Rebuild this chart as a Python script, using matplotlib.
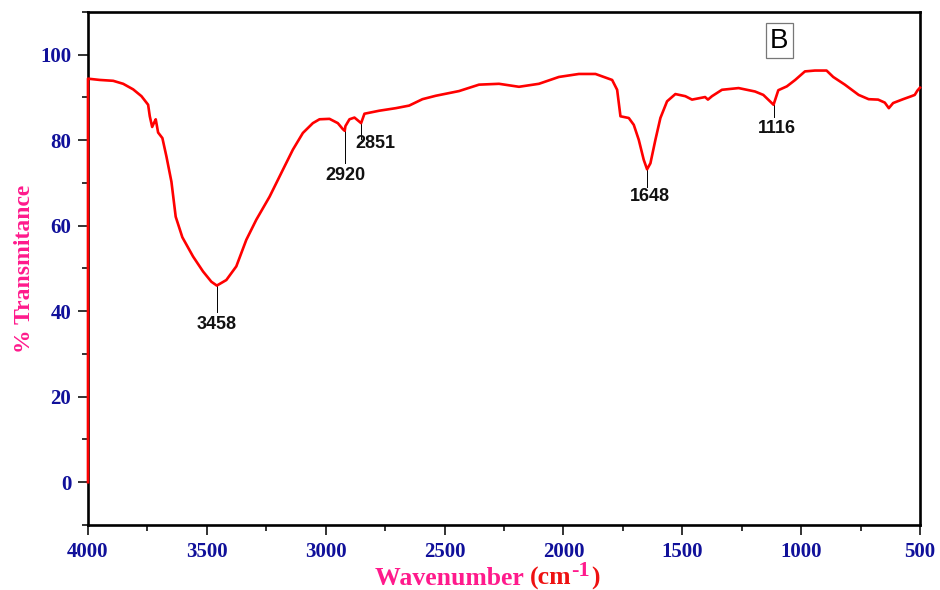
import numpy as np
import matplotlib
matplotlib.use('Agg')
import matplotlib.pyplot as plt
from matplotlib.ticker import MultipleLocator

# FTIR spectrum, wavenumber (cm-1) vs % transmittance
wavenumber = [4000, 4000, 3950, 3894, 3852, 3810, 3775, 3747, 3740, 3730, 3722, 3715,
              3705, 3687, 3670, 3649, 3631, 3603, 3558, 3516, 3481, 3458, 3418,
              3376, 3334, 3292, 3236, 3180, 3138, 3096, 3054, 3026, 2984, 2949,
              2928, 2920, 2917, 2900, 2879, 2851, 2837, 2775, 2705, 2649, 2593,
              2537, 2439, 2355, 2271, 2187, 2103, 2019, 1935, 1865, 1795, 1774,
              1760, 1725, 1704, 1683, 1662, 1648, 1634, 1613, 1592, 1564, 1529,
              1487, 1459, 1404, 1392, 1375, 1333, 1263, 1194, 1159, 1116, 1096,
              1060, 1025, 984, 942, 893, 865, 816, 758, 716, 676, 648, 631,
              613, 571, 536, 522, 511, 500]
transmittance = [0.0, 94.4, 94.1, 93.9, 93.2, 91.9, 90.3, 88.3, 85.6, 83.1, 84.1, 84.9,
                 81.8, 80.5, 76.2, 70.3, 62.1, 57.3, 52.8, 49.3, 46.9, 46.0, 47.3,
                 50.5, 56.7, 61.4, 66.8, 73.1, 77.8, 81.7, 84.0, 84.9, 85.0, 84.0,
                 82.6, 82.2, 83.3, 84.9, 85.3, 84.0, 86.2, 86.9, 87.5, 88.1, 89.6,
                 90.4, 91.5, 93.0, 93.2, 92.5, 93.2, 94.8, 95.5, 95.5, 94.1, 91.8,
                 85.6, 85.2, 83.6, 80.1, 75.4, 73.2, 74.6, 80.1, 85.2, 89.1, 90.8,
                 90.3, 89.5, 90.1, 89.5, 90.3, 91.8, 92.2, 91.4, 90.6, 88.3, 91.7,
                 92.6, 94.1, 96.1, 96.3, 96.3, 94.8, 93.0, 90.6, 89.6, 89.5, 88.8, 87.5,
                 88.7, 89.6, 90.3, 90.6, 91.6, 92.3]

# peak labels: wavenumber, transmittance at peak, end of leader line, label position
peaks = [3458, 2920, 2851, 1648, 1116]
peak_t = [46.0, 82.2, 84.0, 73.2, 88.3]
leader_end = [39.9, 74.6, 80.4, 69.1, 85.4]
label_y = [37.0, 71.8, 79.3, 66.8, 82.7]
label_x = [3458, 2915, 2790, 1635, 1100]

navy = '#10109a'
pink = '#ff1a8c'

fig = plt.figure(figsize=(9.4, 5.9), dpi=100)
ax = fig.add_axes([0.0936, 0.1102, 0.8851, 0.8695])

ax.plot(wavenumber, transmittance, color='#ff0000', lw=1.9, zorder=3, clip_on=False,
        solid_joinstyle='round')

for w, t, e, ly, lx in zip(peaks, peak_t, leader_end, label_y, label_x):
    ax.plot([w, w], [t, e], color='black', lw=0.7, zorder=2)
    ax.text(lx, ly, str(w), ha='center', va='center', fontsize=13,
            fontweight='bold', family='Liberation Sans', color='#111111')

ax.text(1092, 103.3, 'B', ha='center', va='center', fontsize=20,
        family='Liberation Sans', color='black',
        bbox=dict(boxstyle='square,pad=0.15', fc='white', ec='#777777', lw=0.9))

ax.set_xlim(4000, 500)
ax.set_ylim(-10, 110)
ax.xaxis.set_major_locator(MultipleLocator(500))
ax.xaxis.set_minor_locator(MultipleLocator(250))
ax.yaxis.set_minor_locator(MultipleLocator(10))
ax.set_yticks([0, 20, 40, 60, 80, 100])

for s in ax.spines.values():
    s.set_linewidth(1.9)
    s.set_color('black')

ax.tick_params(which='major', direction='out', length=7, width=1.4, color='#333333',
               pad=5, labelsize=15, labelcolor=navy)
ax.tick_params(which='minor', direction='out', length=4.5, width=1.4, color='#333333')
for lab in ax.get_xticklabels() + ax.get_yticklabels():
    lab.set_family('Liberation Serif')
    lab.set_fontweight('bold')

ax.set_ylabel('% Transmitance', family='Liberation Serif', fontweight='bold',
              fontsize=17, color=pink, labelpad=4)

# x label in several colours, pieces chained one after another
lab_kw = dict(family='Liberation Serif', fontweight='bold', fontsize=18.5)
t1 = fig.text(0.399, 0.008, 'Wavenumber ', color=pink, **lab_kw)
t2 = ax.annotate('(cm', xy=(1, 0), xycoords=t1, va='bottom', color='#ee1111', **lab_kw)
t3 = ax.annotate('-1', xy=(1, 0.42), xycoords=t2, va='bottom', color=pink,
                 family='Liberation Serif', fontweight='bold', fontsize=16)
t4 = ax.annotate(')', xy=(1, 0), xycoords=t2, va='bottom', color='#ee1111',
                 xytext=(14, 0), textcoords='offset points', **lab_kw)

fig.savefig('out.png', dpi=100)
